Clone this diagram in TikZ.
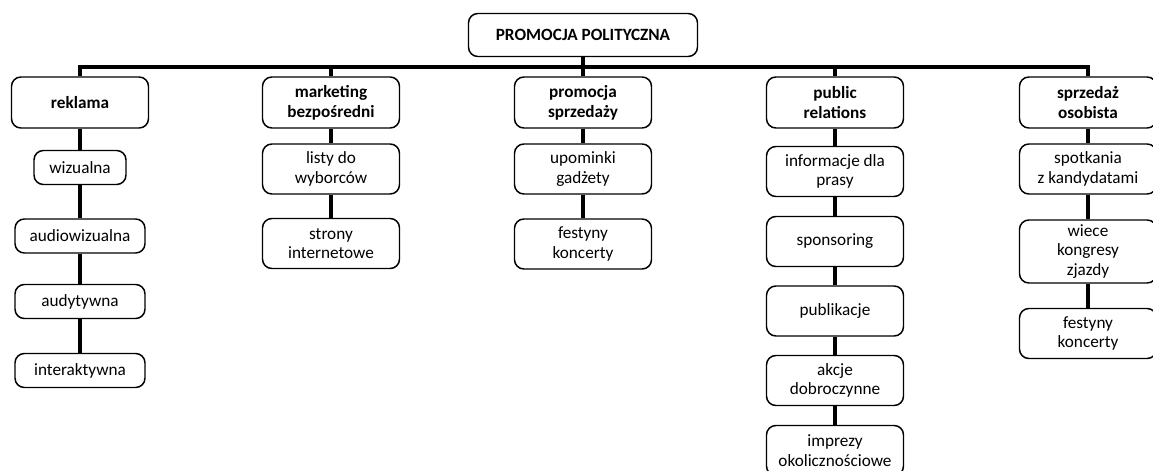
\documentclass[tikz,border=0pt]{standalone}
\usepackage{fontspec}
\setmainfont{Carlito}
\begin{document}
\begin{tikzpicture}[x=0.75pt,y=-0.75pt,
    box/.style={draw,line width=1.1pt,rounded corners=7pt,align=center,inner sep=0pt,
        minimum width=102.75pt,font=\fontsize{12.9}{14.8}\selectfont},
    head/.style={box,minimum height=38.25pt,font=\bfseries\fontsize{12.9}{14.8}\selectfont},
    item/.style={box,minimum height=37.5pt},
    thin/.style={box,minimum width=97.5pt,minimum height=25.5pt},
    link/.style={line width=2.3pt}]
    \useasboundingbox (0,0) rectangle (1153,471);
    \clip (0,0) rectangle (1153,471);
    %\draw[gray,very thin,step=50] (0,0) grid (1153,471);
    % root
    \node[head,minimum width=171.75pt,minimum height=32.25pt] (root) at (583,35) {PROMOCJA POLITYCZNA};
    \coordinate (bus) at (583,67);
    % first level
    \node[head] (rek) at (80,102.5) {reklama};
    \node[head] (mark) at (331,102.5) {marketing\\bezpośredni};
    \node[head] (prom) at (583,102.5) {promocja\\sprzedaży};
    \node[head] (pr) at (835,102.5) {public\\relations};
    \node[head] (sprz) at (1088,102.5) {sprzedaż\\osobista};
    % reklama
    \node[thin,minimum width=69pt] (rek1) at (80,167.5) {wizualna};
    \node[thin] (rek2) at (80,236) {audiowizualna};
    \node[thin] (rek3) at (80,301.5) {audytywna};
    \node[thin] (rek4) at (80,370.5) {interaktywna};
    % marketing bezposredni
    \node[item] (mark1) at (331,169) {listy do\\wyborców};
    \node[item] (mark2) at (331,243.5) {strony\\internetowe};
    % promocja sprzedazy
    \node[item] (prom1) at (583,169) {upominki\\gadżety};
    \node[item] (prom2) at (583,244) {festyny\\koncerty};
    % public relations
    \node[item] (pr1) at (835,171.5) {informacje dla\\prasy};
    \node[item] (pr2) at (835,241.5) {sponsoring};
    \node[item] (pr3) at (835,311) {publikacje};
    \node[item] (pr4) at (835,380.5) {akcje\\dobroczynne};
    \node[item] (pr5) at (835,450.5) {imprezy\\okolicznościowe};
    % sprzedaz osobista
    \node[item] (sprz1) at (1088,169) {spotkania\\z kandydatami};
    \node[item,minimum height=47.25pt] (sprz2) at (1088,251.5) {wiece\\kongresy\\zjazdy};
    \node[item] (sprz3) at (1088,333.5) {festyny\\koncerty};
    % connectors
    \draw[link] (root.south) -- (bus);
    \draw[link] (rek.north) |- (bus) -| (sprz.north);
    \foreach \n in {mark,prom,pr}
        \draw[link] (\n.north) -- (\n.north |- bus);
    \foreach \a/\b in {rek/rek1,rek1/rek2,rek2/rek3,rek3/rek4,mark/mark1,mark1/mark2,
        prom/prom1,prom1/prom2,pr/pr1,pr1/pr2,pr2/pr3,pr3/pr4,pr4/pr5,
        sprz/sprz1,sprz1/sprz2,sprz2/sprz3}
        \draw[link] (\a.south) -- (\b.north);
\end{tikzpicture}
\end{document}
